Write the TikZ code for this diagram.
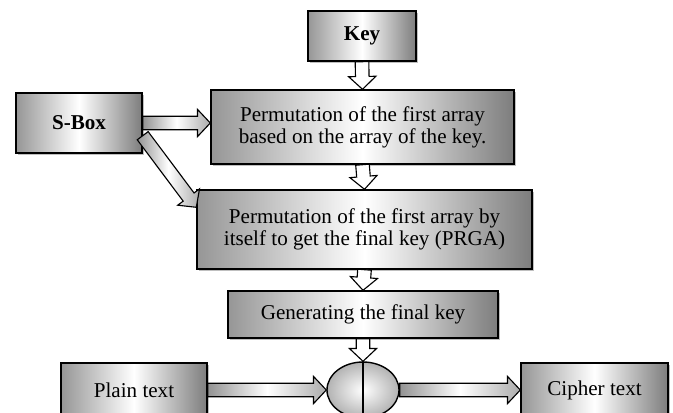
\documentclass[tikz,border=0pt]{standalone}
\usepackage{fontspec}
\setmainfont{Liberation Serif}
\usetikzlibrary{arrows.meta,positioning,shapes.geometric,calc}
\definecolor{boxgray}{RGB}{150,150,150}
\definecolor{darkgray}{RGB}{125,125,125}

\begin{document}
\begin{tikzpicture}[
        box/.style={rectangle, draw=black, line width=1pt, align=center, inner sep=2pt,
                    preaction={fill=black, opacity=0.25, transform canvas={xshift=1.5pt, yshift=-1.5pt}},
                    left color=boxgray, right color=darkgray, middle color=white,
                    font=\fontsize{15}{15.8}\selectfont},
        blockarrow/.style={draw=black, line width=0.8pt, to path={
            ($(\tikztostart)!0.17cm!90:(\tikztotarget)$)
            -- ($(\tikztotarget)!0.32cm!(\tikztostart)!0.17cm!-90:(\tikztostart)$)
            -- ($(\tikztotarget)!0.32cm!(\tikztostart)!0.34cm!-90:(\tikztostart)$)
            -- (\tikztotarget)
            -- ($(\tikztotarget)!0.32cm!(\tikztostart)!0.34cm!90:(\tikztostart)$)
            -- ($(\tikztotarget)!0.32cm!(\tikztostart)!0.17cm!90:(\tikztostart)$)
            -- ($(\tikztostart)!0.17cm!-90:(\tikztotarget)$) -- cycle}},
        hollowarrow/.style={blockarrow, fill=white},
        shadedarrow/.style={blockarrow, left color=gray!85, right color=gray!65, middle color=white}
    ]
    \clip (0,0) rectangle (16.825,-10.3);

    \node[box, minimum width=2.7cm, minimum height=1.25cm] (key) at (9.05,-0.9) {\textbf{Key}};
    \node[box, minimum width=3.15cm, minimum height=1.5cm] (sbox) at (1.975,-3.075) {\textbf{S-Box}};

    \node[box, minimum width=7.575cm, minimum height=1.85cm] (perm1) at (9.0625,-3.175)
      {Permutation of the first array\\based on the array of the key.};
    \node[box, minimum width=8.375cm, minimum height=1.975cm] (perm2) at (9.1125,-5.7375)
      {Permutation of the first array by\\itself to get the final key (PRGA)};
    \node[box, minimum width=6.75cm, minimum height=1.175cm] (gen) at (9.075,-7.8625)
      {Generating the final key};

    \node[ellipse, draw=black, line width=1pt, minimum width=1.8cm, minimum height=1.4cm,
          inner color=white, outer color=gray!60] (xor) at (9.075,-9.75) {};
    \draw[line width=0.8pt] (xor.north) -- (xor.south);

    \node[box, minimum width=3.65cm, minimum height=1.35cm] (plain) at (3.35,-9.75) {Plain text};
    \node[box, minimum width=3.675cm, minimum height=1.35cm] (cipher) at (14.8625,-9.75) {Cipher text};

    % connectors
    \coordinate (perm1in) at (sbox.east -| perm1.west);
    \coordinate (sboxout) at ($(sbox.south east)+(0,0.45)$);
    \coordinate (perm2in) at ($(perm2.north west)+(0,-0.45)$);

    \draw[hollowarrow] (key.south) to (perm1.north);
    \draw[hollowarrow] (perm1.south) to (perm2.north);
    \draw[hollowarrow] (perm2.south) to (gen.north);
    \draw[hollowarrow] (gen.south) to (xor.north);

    \draw[shadedarrow] (sbox.east) to (perm1in);
    \draw[shadedarrow] (sboxout) to (perm2in);
    \draw[shadedarrow] (plain.east) to (xor.west);
    \draw[shadedarrow] (xor.east) to (cipher.west);
\end{tikzpicture}
\end{document}
